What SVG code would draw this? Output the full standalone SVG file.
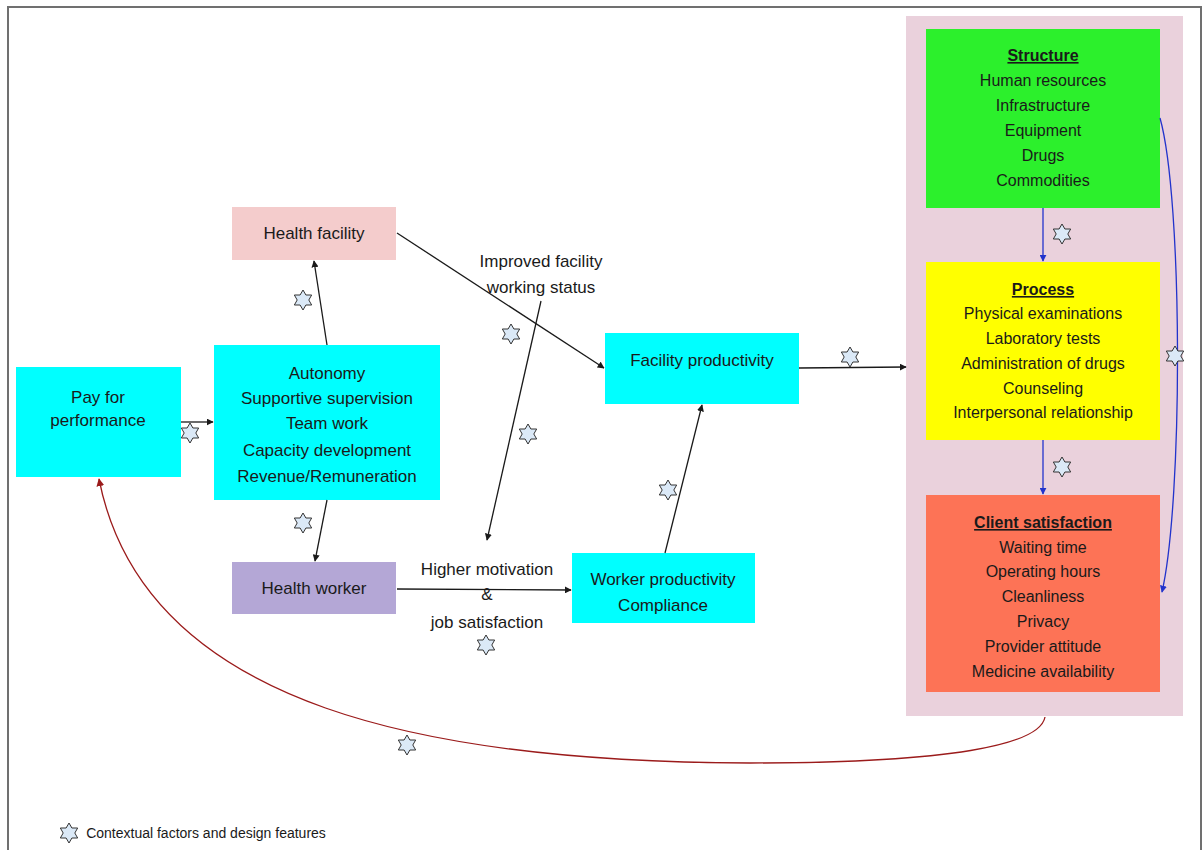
<svg xmlns="http://www.w3.org/2000/svg" width="1204" height="850" viewBox="0 0 1204 850">
<style>
text{font-family:"Liberation Sans",Arial,sans-serif;fill:#1a1a1a;text-anchor:middle}
.m{font-size:17px}
.r{font-size:16px}
.h{font-size:16px;font-weight:bold;text-decoration:underline}
.k{stroke:#1a1a1a;stroke-width:1.3;fill:none}
.b{stroke:#2233cc;stroke-width:1.3;fill:none}
.d{stroke:#9b1b1b;stroke-width:1.3;fill:none}
.star{fill:#dbe9f7;stroke:#333;stroke-width:1}
</style>
<defs>
<marker id="ak" viewBox="0 0 10 10" refX="9" refY="5" markerWidth="7" markerHeight="7" orient="auto" markerUnits="userSpaceOnUse"><path d="M0,0 L10,5 L0,10 Z" fill="#1a1a1a"/></marker>
<marker id="ab" viewBox="0 0 10 10" refX="9" refY="5" markerWidth="7" markerHeight="7" orient="auto" markerUnits="userSpaceOnUse"><path d="M0,0 L10,5 L0,10 Z" fill="#2233cc"/></marker>
<marker id="ad" viewBox="0 0 10 10" refX="9" refY="5" markerWidth="8" markerHeight="8" orient="auto" markerUnits="userSpaceOnUse"><path d="M0,0 L10,5 L0,10 Z" fill="#9b1b1b"/></marker>
<path id="st" class="star" d="M0,-10 L2.9,-5 L8.66,-5 L5.8,0 L8.66,5 L2.9,5 L0,10 L-2.9,5 L-8.66,5 L-5.8,0 L-8.66,-5 L-2.9,-5 Z"/>
</defs>
<rect width="1204" height="850" fill="#fff"/>
<path d="M8,850 L8,7 L1201,7 L1201,850" fill="none" stroke="#707070" stroke-width="2"/>

<g id="panel"><rect x="906" y="16" width="277" height="700" fill="#ead1dc"/></g>

<g id="pay"><rect x="16" y="367" width="165" height="110" fill="#00ffff"/>
<text class="m" x="98" y="403">Pay for</text><text class="m" x="98" y="426">performance</text></g>

<g id="autonomy"><rect x="214" y="345" width="226" height="155" fill="#00ffff"/>
<text class="m" x="327" y="379">Autonomy</text>
<text class="m" x="327" y="404">Supportive supervision</text>
<text class="m" x="327" y="429">Team work</text>
<text class="m" x="327" y="456">Capacity development</text>
<text class="m" x="327" y="482">Revenue/Remuneration</text></g>

<g id="facility"><rect x="232" y="207" width="164" height="53" fill="#f4cccc"/>
<text class="m" x="314" y="239">Health facility</text></g>

<g id="worker"><rect x="232" y="562" width="164" height="52" fill="#b4a7d6"/>
<text class="m" x="314" y="594">Health worker</text></g>

<g id="facprod"><rect x="605" y="333" width="194" height="71" fill="#00ffff"/>
<text class="m" x="702" y="366">Facility productivity</text></g>

<g id="workprod"><rect x="572" y="553" width="183" height="70" fill="#00ffff"/>
<text class="m" x="663" y="585">Worker productivity</text>
<text class="m" x="663" y="611">Compliance</text></g>

<g id="structure"><rect x="926" y="29" width="234" height="179" fill="#2cf02c"/>
<text class="h" x="1043" y="61">Structure</text>
<text class="r" x="1043" y="86">Human resources</text>
<text class="r" x="1043" y="111">Infrastructure</text>
<text class="r" x="1043" y="136">Equipment</text>
<text class="r" x="1043" y="161">Drugs</text>
<text class="r" x="1043" y="186">Commodities</text></g>

<g id="process"><rect x="926" y="262" width="234" height="178" fill="#ffff00"/>
<text class="h" x="1043" y="295">Process</text>
<text class="r" x="1043" y="319">Physical examinations</text>
<text class="r" x="1043" y="344">Laboratory tests</text>
<text class="r" x="1043" y="369">Administration of drugs</text>
<text class="r" x="1043" y="394">Counseling</text>
<text class="r" x="1043" y="418">Interpersonal relationship</text></g>

<g id="client"><rect x="926" y="495" width="234" height="197" fill="#fd7356"/>
<text class="h" x="1043" y="528">Client satisfaction</text>
<text class="r" x="1043" y="553">Waiting time</text>
<text class="r" x="1043" y="577">Operating hours</text>
<text class="r" x="1043" y="602">Cleanliness</text>
<text class="r" x="1043" y="627">Privacy</text>
<text class="r" x="1043" y="652">Provider attitude</text>
<text class="r" x="1043" y="677">Medicine availability</text></g>

<g id="connectors">
<line class="k" x1="181" y1="422" x2="213" y2="422" marker-end="url(#ak)"/>
<line class="k" x1="327" y1="345" x2="314" y2="261" marker-end="url(#ak)"/>
<line class="k" x1="327" y1="500" x2="315" y2="561" marker-end="url(#ak)"/>
<line class="k" x1="397" y1="233" x2="604" y2="368" marker-end="url(#ak)"/>
<line class="k" x1="541" y1="301" x2="487" y2="540" marker-end="url(#ak)"/>
<line class="k" x1="397" y1="589" x2="571" y2="590" marker-end="url(#ak)"/>
<line class="k" x1="665" y1="553" x2="702" y2="405" marker-end="url(#ak)"/>
<line class="k" x1="799" y1="368" x2="906" y2="367" marker-end="url(#ak)"/>
<line class="b" x1="1043" y1="208" x2="1043" y2="261" marker-end="url(#ab)"/>
<line class="b" x1="1043" y1="440" x2="1043" y2="494" marker-end="url(#ab)"/>
<path class="b" d="M1160,118 C1183,200 1183,500 1162,592" marker-end="url(#ab)"/>
<path class="d" d="M1045,717 C1040,745 950,763 750,763 C440,762 145,712 99,479" marker-end="url(#ad)"/>
</g>

<g id="labels">
<text class="m" x="541" y="267">Improved facility</text>
<text class="m" x="541" y="293">working status</text>
<text class="m" x="487" y="575">Higher motivation</text>
<text class="m" x="487" y="600">&amp;</text>
<text class="m" x="487" y="628">job satisfaction</text>
</g>

<g id="stars">
<use href="#st" x="190" y="433"/>
<use href="#st" x="303" y="300"/>
<use href="#st" x="303" y="523"/>
<use href="#st" x="511" y="334"/>
<use href="#st" x="528" y="434"/>
<use href="#st" x="486" y="645"/>
<use href="#st" x="668" y="490"/>
<use href="#st" x="850" y="357"/>
<use href="#st" x="1062" y="234"/>
<use href="#st" x="1062" y="467"/>
<use href="#st" x="1175" y="356"/>
<use href="#st" x="407" y="745"/>
</g>

<g id="legend">
<use href="#st" x="69" y="833"/>
<text x="206" y="838" style="font-size:14px">Contextual factors and design features</text>
</g>
</svg>
